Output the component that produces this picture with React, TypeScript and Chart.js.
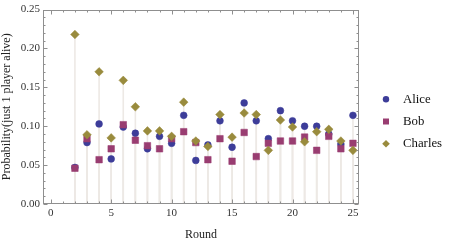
import { useEffect, useRef } from "react";
import { Chart, registerables } from "chart.js";

Chart.register(...registerables);

// ---- data ----
const rounds = [2, 3, 4, 5, 6, 7, 8, 9, 10, 11, 12, 13, 14, 15, 16, 17, 18, 19, 20, 21, 22, 23, 24, 25];
const alice = [0.047, 0.079, 0.103, 0.058, 0.099, 0.091, 0.071, 0.087, 0.078, 0.114, 0.056, 0.076, 0.107, 0.073, 0.130, 0.107, 0.084, 0.120, 0.107, 0.100, 0.100, 0.090, 0.077, 0.114];
const bob = [0.046, 0.084, 0.057, 0.071, 0.102, 0.082, 0.075, 0.071, 0.084, 0.093, 0.079, 0.057, 0.084, 0.055, 0.092, 0.061, 0.078, 0.081, 0.081, 0.086, 0.069, 0.087, 0.071, 0.078];
const charles = [0.218, 0.089, 0.170, 0.085, 0.159, 0.125, 0.094, 0.094, 0.087, 0.131, 0.081, 0.074, 0.115, 0.086, 0.117, 0.115, 0.069, 0.108, 0.099, 0.080, 0.093, 0.096, 0.081, 0.069];
const seriesNames = ["Alice", "Bob", "Charles"];
const xTickValues = [0, 5, 10, 15, 20, 25];
const xTickLabels = ["0", "5", "10", "15", "20", "25"];
const yTickValues = [0, 0.05, 0.1, 0.15, 0.2, 0.25];
const yTickLabels = ["0.00", "0.05", "0.10", "0.15", "0.20", "0.25"];
const xTitle = "Round";
const yTitle = "Probability(just 1 player alive)";

const FONT = "'Liberation Serif', 'Times New Roman', serif";
const colors = ["#3d3d99", "#993d71", "#998b3d"];
const colorsRgb = [[61, 61, 153], [153, 61, 113], [153, 139, 61]];
const styles = ["circle", "rect", "rectRot"];
const radii = [3.4, 4.6, 4.3];

const framePlugin = {
  id: "frameAndStems",
  beforeDatasetsDraw(chart: any) {
    const { ctx, scales } = chart;
    const y0 = scales.y.getPixelForValue(0);
    ctx.save();
    ctx.lineWidth = 1.6;
    ctx.strokeStyle = "#ede9e5";
    chart.data.datasets.forEach((ds: any, di: number) => {
      const meta = chart.getDatasetMeta(di);
      meta.data.forEach((pt: any) => {
        ctx.beginPath();
        ctx.moveTo(pt.x, pt.y);
        ctx.lineTo(pt.x, y0);
        ctx.stroke();
      });
    });
    ctx.restore();
  },
  afterDatasetsDraw(chart: any) {
    const { ctx, chartArea: a, scales } = chart;
    const L = Math.round(a.left) + 0.5;
    const R = Math.round(a.right) - 0.5;
    const T = Math.round(a.top) + 0.5;
    const B = Math.round(a.bottom) - 0.5;
    ctx.save();
    ctx.strokeStyle = "#8f8f8f";
    ctx.lineWidth = 1;
    ctx.strokeRect(L, T, R - L, B - T);
    ctx.beginPath();
    for (let v = 0; v <= 25; v++) {
      const px = Math.round(scales.x.getPixelForValue(v)) + 0.5;
      const len = v % 5 === 0 ? 4 : 2;
      ctx.moveTo(px, B);
      ctx.lineTo(px, B - len);
      ctx.moveTo(px, T);
      ctx.lineTo(px, T + len);
    }
    for (let k = 0; k <= 25; k++) {
      const py = Math.round(scales.y.getPixelForValue(k / 100)) + 0.5;
      const len = k % 5 === 0 ? 4 : 2;
      ctx.moveTo(L, py);
      ctx.lineTo(L + len, py);
      ctx.moveTo(R, py);
      ctx.lineTo(R - len, py);
    }
    ctx.stroke();
    ctx.restore();
  },
  afterDraw(chart: any) {
    const { ctx, chartArea: a } = chart;
    const cy = chart.height / 2;
    const mx = a.right + 27;
    ctx.save();
    chart.data.datasets.forEach((ds: any, i: number) => {
      const y = cy + (i - 1) * 22.2;
      ctx.fillStyle = colors[i];
      ctx.beginPath();
      if (styles[i] === "circle") {
        ctx.arc(mx, y, 3.2, 0, Math.PI * 2);
      } else if (styles[i] === "rect") {
        ctx.rect(mx - 3, y - 3, 6, 6);
      } else {
        ctx.moveTo(mx - 3.8, y);
        ctx.lineTo(mx, y - 3.8);
        ctx.lineTo(mx + 3.8, y);
        ctx.lineTo(mx, y + 3.8);
        ctx.closePath();
      }
      ctx.fill();
      ctx.fillStyle = "#111";
      ctx.font = `12.8px ${FONT}`;
      ctx.textBaseline = "middle";
      ctx.textAlign = "left";
      ctx.fillText(ds.label, mx + 17, y);
    });
    ctx.restore();
  },
};

export default function App() {
  const ref = useRef<HTMLCanvasElement | null>(null);
  useEffect(() => {
    document.body.style.margin = "0";
    const series = [alice, bob, charles];
    const chart = new Chart(ref.current as HTMLCanvasElement, {
      type: "scatter",
      data: {
        datasets: series.map((vals, i) => ({
          label: seriesNames[i],
          data: rounds.map((r, j) => ({ x: r, y: vals[j] })),
          pointStyle: styles[i] as any,
          pointRadius: radii[i],
          backgroundColor: colors[i],
          borderColor: `rgba(${colorsRgb[i].join(",")},0.55)`,
          borderWidth: 1,
          order: 2 - i,
        })),
      },
      options: {
        responsive: false,
        animation: false,
        devicePixelRatio: 1,
        layout: { padding: { top: 9, right: 91, left: 0, bottom: 0 } },
        plugins: { legend: { display: false }, tooltip: { enabled: false } },
        scales: {
          x: {
            type: "linear",
            min: -0.64,
            max: 25.5,
            afterBuildTicks: (s: any) => {
              s.ticks = xTickValues.map((v) => ({ value: v }));
            },
            afterFit: (s: any) => {
              s.height = 39;
            },
            ticks: {
              autoSkip: false,
              maxRotation: 0,
              padding: 3,
              color: "#333",
              font: { family: FONT, size: 11 },
              callback: (v: any) => {
                const k = xTickValues.indexOf(Number(v));
                return k >= 0 ? xTickLabels[k] : "";
              },
            },
            grid: { display: false, drawTicks: false },
            border: { display: false },
            title: {
              display: true,
              text: xTitle,
              color: "#222",
              font: { family: FONT, size: 12 },
              padding: { top: 0, bottom: 1 },
            },
          },
          y: {
            type: "linear",
            min: 0,
            max: 0.25,
            afterBuildTicks: (s: any) => {
              s.ticks = yTickValues.map((v) => ({ value: v }));
            },
            afterFit: (s: any) => {
              s.width = 43;
            },
            ticks: {
              autoSkip: false,
              padding: 3,
              color: "#333",
              font: { family: FONT, size: 11 },
              callback: (v: any) => {
                const k = yTickValues.indexOf(Number(v));
                return k >= 0 ? yTickLabels[k] : "";
              },
            },
            grid: { display: false, drawTicks: false },
            border: { display: false },
            title: {
              display: true,
              text: yTitle,
              color: "#222",
              font: { family: FONT, size: 12 },
              padding: { top: 0, bottom: 0 },
            },
          },
        },
      },
      plugins: [framePlugin],
    });
    return () => chart.destroy();
  }, []);
  return <canvas ref={ref} width={450} height={243} style={{ display: "block" }} />;
}
